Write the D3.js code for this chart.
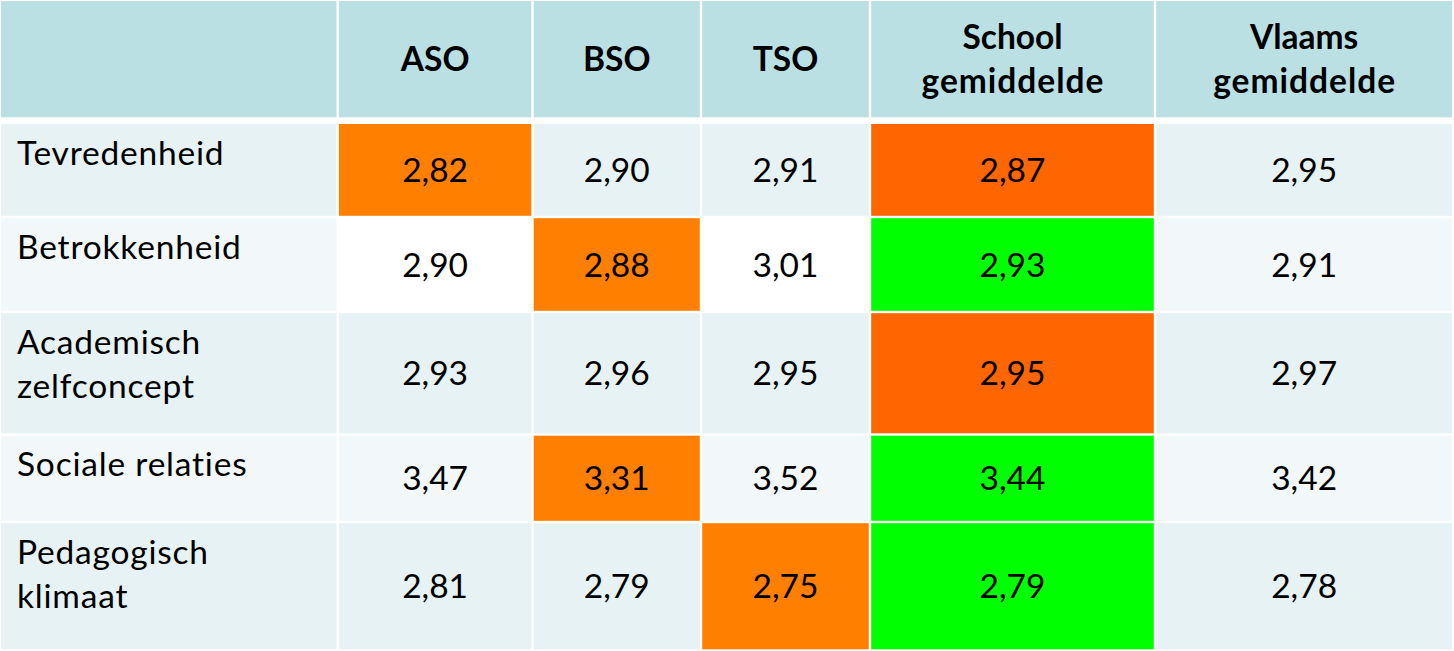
<!DOCTYPE html>
<html>
<head>
<meta charset="utf-8">
<script src="https://cdn.jsdelivr.net/npm/d3@7"></script>
<style>
  html, body { margin: 0; padding: 0; background: #ffffff; }
  svg { display: block; }
</style>
</head>
<body>
<svg id="chart" width="1454" height="651"></svg>
<script>
// ---- data ----
const rowLabels = ["Tevredenheid", "Betrokkenheid", "Academisch\nzelfconcept", "Sociale relaties", "Pedagogisch\nklimaat"];
const columnLabels = ["ASO", "BSO", "TSO", "School\ngemiddelde", "Vlaams\ngemiddelde"];
const asoValues    = [2.82, 2.90, 2.93, 3.47, 2.81];
const bsoValues    = [2.90, 2.88, 2.96, 3.31, 2.79];
const tsoValues    = [2.91, 3.01, 2.95, 3.52, 2.75];
const schoolValues = [2.87, 2.93, 2.95, 3.44, 2.79];
const vlaamsValues = [2.95, 2.91, 2.97, 3.42, 2.78];
// cell marks: "low" = lowest track, "below"/"above" = school vs Vlaams average, "plain" = unshaded
const asoMarks    = ["low", "plain", "", "", ""];
const bsoMarks    = ["", "low", "", "low", ""];
const tsoMarks    = ["", "plain", "", "", "low"];
const schoolMarks = ["below", "above", "below", "above", "above"];
const vlaamsMarks = ["", "", "", "", ""];

// ---- layout ----
const colEdges = [0, 337.7, 532.5, 701, 870, 1155, 1453.3];
const rowEdges = [0, 120.7, 217, 312, 434.5, 522, 650.3];
const gap = 1.2;

const series = [asoValues, bsoValues, tsoValues, schoolValues, vlaamsValues];
const marks = [asoMarks, bsoMarks, tsoMarks, schoolMarks, vlaamsMarks];

const colKeys = ["label"].concat(columnLabels);
const rowKeys = ["header"].concat(rowLabels);

const xScale = d3.scaleOrdinal().domain(colKeys).range(colEdges.slice(0, -1));
const wScale = d3.scaleOrdinal().domain(colKeys).range(d3.pairs(colEdges, (a, b) => b - a));
const yScale = d3.scaleOrdinal().domain(rowKeys).range(rowEdges.slice(0, -1));
const hScale = d3.scaleOrdinal().domain(rowKeys).range(d3.pairs(rowEdges, (a, b) => b - a));

const markColor = d3.scaleOrdinal()
  .domain(["low", "below", "above", "plain"])
  .range(["#ff8000", "#ff6600", "#00ff00", "#ffffff"]);

const headerFill = "#bbe0e3";
const bandFill = (i) => (i % 2 === 0 ? "#e7f2f4" : "#f2f8fa");

const locale = d3.formatLocale({ decimal: ",", thousands: ".", grouping: [3], currency: ["€", ""] });
const fmt = locale.format(".2f");

const FONT = "Lato, 'Open Sans', sans-serif";
const bodySize = 33.5;
const headSize = 33.5;
const lineH = 44.3;

const svg = d3.select("#chart");

// build cells
const cells = [];
colKeys.forEach((c, ci) => {
  cells.push({ row: "header", col: c, fill: headerFill, text: ci === 0 ? "" : c, kind: "head", topGap: 1, botGap: 3.4 });
});
rowLabels.forEach((r, ri) => {
  const topGap = ri === 0 ? 3.3 : gap;
  cells.push({ row: r, col: "label", fill: bandFill(ri), text: r, kind: "label", topGap, botGap: gap });
  columnLabels.forEach((c, ci) => {
    const m = marks[ci][ri];
    cells.push({
      row: r, col: c,
      fill: m ? markColor(m) : bandFill(ri),
      text: fmt(series[ci][ri]),
      kind: "value", topGap, botGap: ri === rowLabels.length - 1 ? 1 : gap
    });
  });
});

const g = svg.append("g");
const cellG = g.selectAll("g.cell").data(cells).join("g").attr("class", "cell");

cellG.append("rect")
  .attr("x", d => xScale(d.col) + (d.col === "label" ? 1 : gap))
  .attr("y", d => yScale(d.row) + d.topGap)
  .attr("width", d => wScale(d.col) - (d.col === "label" ? 1 : gap) - gap)
  .attr("height", d => hScale(d.row) - d.topGap - d.botGap)
  .attr("fill", d => d.fill);

cellG.each(function (d) {
  if (!d.text) return;
  const sel = d3.select(this);
  const lines = d.text.split("\n");
  const x0 = xScale(d.col), w = wScale(d.col);
  const y0 = yScale(d.row) + d.topGap, h = hScale(d.row) - d.topGap - d.botGap;
  if (d.kind === "label") {
    const t = sel.append("text")
      .attr("x", x0 + 17)
      .attr("font-family", FONT)
      .attr("font-size", bodySize)
      .attr("letter-spacing", 0.8)
      .attr("fill", "#000");
    lines.forEach((ln, i) => {
      t.append("tspan").attr("x", x0 + 17).attr("y", y0 + 40.5 + i * lineH).text(ln);
    });
  } else {
    const size = d.kind === "head" ? headSize : bodySize;
    const cy = y0 + h / 2;
    const firstBase = cy + 12 - (lines.length - 1) * lineH / 2;
    const t = sel.append("text")
      .attr("text-anchor", "middle")
      .attr("font-family", FONT)
      .attr("font-size", size)
      .attr("font-weight", d.kind === "head" ? "bold" : "normal")
      .attr("fill", "#000");
    lines.forEach((ln, i) => {
      const sp = (d.kind === "head" && ln.length > 6) ? 1 : 0;
      t.append("tspan")
        .attr("x", x0 + w / 2 + sp / 2)
        .attr("y", firstBase + i * lineH)
        .attr("letter-spacing", sp)
        .text(ln);
    });
  }
});
</script>
</body>
</html>
